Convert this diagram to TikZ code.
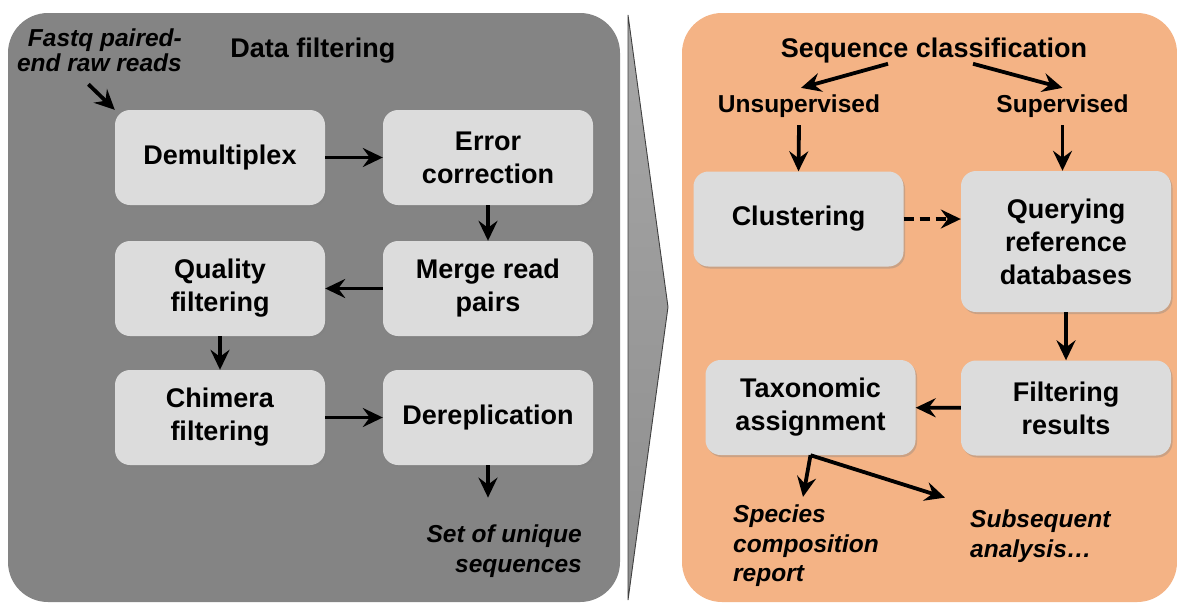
\documentclass[tikz,border=0pt]{standalone}
\usepackage{fontspec}
\setmainfont{Liberation Sans}
\usepackage{tikz}
\usetikzlibrary{arrows.meta, positioning, shadows}
\definecolor{panel_gray}{HTML}{848484}
\definecolor{panel_orange}{HTML}{F4B385}
\definecolor{box_gray}{HTML}{DCDCDC}
\definecolor{chev_top}{HTML}{A6A6A6}
\definecolor{chev_bot}{HTML}{8E8E8E}
\newcommand{\boxfont}{\fontsize{27}{33}\selectfont\bfseries}
\newcommand{\labelfont}{\fontsize{24.5}{29}\selectfont\bfseries}
\newcommand{\notefont}{\fontsize{24.5}{29.5}\selectfont\bfseries\itshape}

\begin{document}
\begin{tikzpicture}[x=1pt, y=-1pt,
    stepbox/.style={fill=box_gray, rounded corners=15pt, minimum width=210pt, minimum height=95pt,
        align=center, font=\boxfont, drop shadow={shadow xshift=1.5pt, shadow yshift=-2pt, opacity=0.35}},
    heading/.style={inner sep=0pt, font=\fontsize{27}{32}\selectfont\bfseries},
    note/.style={inner sep=0pt, font=\notefont},
    arr/.style={line width=3.8pt, -{Stealth[length=20pt, width=19pt, inset=7pt]}}]
    \useasboundingbox (0,0) rectangle (1177,603);
    \fill[white] (0,0) rectangle (1177,603);

    % panels
    \fill[panel_gray, rounded corners=40pt] (8,13) rectangle (620,602);
    \fill[panel_orange, rounded corners=40pt] (682,13) rectangle (1177,602);
    \shade[top color=chev_top, bottom color=chev_bot, draw=black!75, line width=0.9pt]
        (628,15) -- (668,307) -- (628,600) -- cycle;

    % data filtering
    \node[heading] (datafilt) at (313,51) {Data filtering};
    \node[note, align=right, anchor=east, font=\fontsize{24.5}{25}\selectfont\bfseries\itshape]
        (fastq) at (182,50.6) {Fastq paired-\\end raw reads};
    \node[stepbox] (demux) at (220,157.5) {Demultiplex};
    \node[stepbox] (errcorr) at (488,157.5) {Error\\correction};
    \node[stepbox] (merge) at (488,288.5) {Merge read\\pairs};
    \node[stepbox] (quality) at (220,288.5) {Quality\\filtering};
    \node[stepbox] (chimera) at (220,417.5) {Chimera\\filtering};
    \node[stepbox] (derep) at (488,417.5) {Dereplication};
    \node[note, align=right, anchor=east] (uniq) at (582,551) {Set of unique\\sequences};

    \draw[arr] ([xshift=-11pt, yshift=-12pt]fastq.south) -- (demux.north west);
    \draw[arr] (demux) -- (errcorr);
    \draw[arr] (errcorr) -- (merge);
    \draw[arr] (merge) -- (quality);
    \draw[arr] (quality) -- (chimera);
    \draw[arr] (chimera) -- (derep);
    \draw[arr, shorten >=27pt] (derep.south) -- (derep.south |- uniq.north);

    % sequence classification
    \node[heading] (seqclass) at (934,51) {Sequence classification};
    \node[heading, font=\labelfont] (unsup) at (799,106.5) {Unsupervised};
    \node[heading, font=\labelfont] (sup) at (1062.5,106.5) {Supervised};
    \node[stepbox] (cluster) at (798.5,219) {Clustering};
    \node[stepbox, minimum height=141pt] (query) at (1066,241.5) {Querying\\reference\\databases};
    \node[stepbox] (filtres) at (1066,408) {Filtering\\results};
    \node[stepbox] (taxo) at (810.5,407.5) {Taxonomic\\assignment};
    \node[note, align=left, anchor=west] (species) at (733,546) {Species\\composition\\report};
    \node[note, align=left, anchor=west] (subseq) at (970,536) {Subsequent\\analysis\dots};

    \draw[arr] ([xshift=-46pt]seqclass.south) -- ([xshift=2pt, yshift=7pt]unsup.north);
    \draw[arr] ([xshift=39pt]seqclass.south) -- ([yshift=7pt]sup.north);
    \draw[arr] ([yshift=-7pt]unsup.south) -- (cluster.north);
    \draw[arr] ([yshift=-7pt]sup.south) -- (sup.south |- query.north);
    \draw[arr, dash pattern=on 10pt off 6pt] (cluster.east) -- (cluster.east -| query.west);
    \draw[arr] (query) -- (filtres);
    \draw[arr] (filtres) -- (taxo);
    \draw[arr] (taxo.south) -- ([xshift=70pt, yshift=8pt]species.north west);
    \draw[arr] (taxo.south) -- ([xshift=-25pt, yshift=12pt]subseq.north west);
\end{tikzpicture}
\end{document}
